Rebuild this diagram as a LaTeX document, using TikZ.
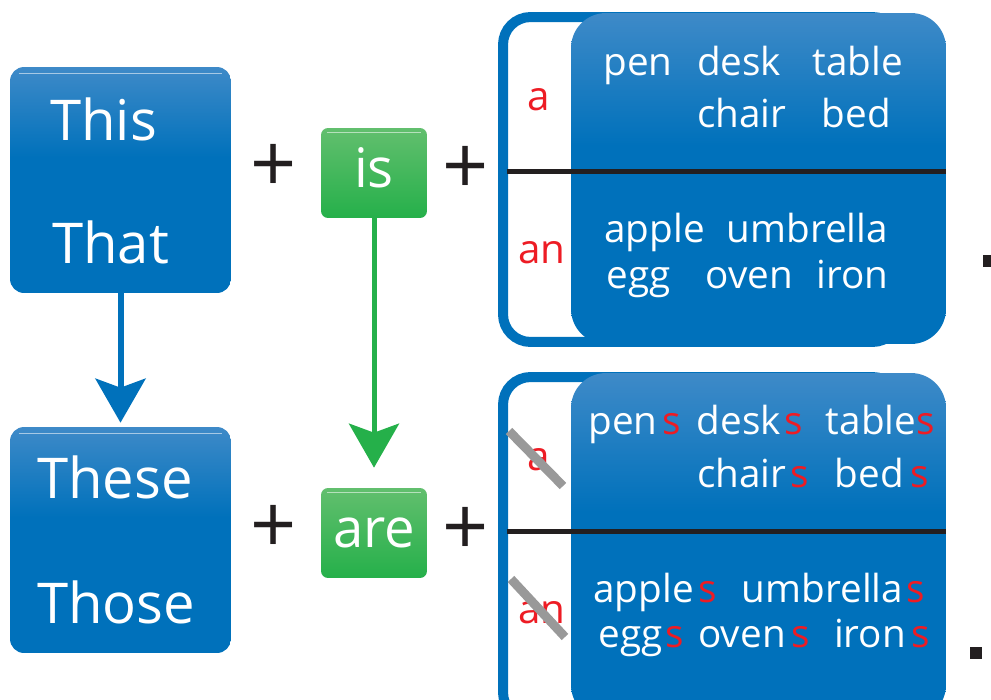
\documentclass[tikz,border=0pt]{standalone}
\usepackage{fontspec}
\setmainfont{Open Sans}
\usetikzlibrary{calc,arrows.meta,positioning}
\tikzstyle{wordbox}=[rounded corners=0.28cm,minimum width=4.42cm,minimum height=4.52cm,inner sep=0pt,shading=bluefade]
\tikzstyle{verbbox}=[rounded corners=0.14cm,minimum width=2.12cm,minimum height=1.8cm,inner sep=0pt,top color=greenlight,bottom color=greendark,text=white,font=\fontsize{31}{36}\selectfont,text height=17pt,text depth=0pt]
\tikzstyle{frame}=[draw=boxdark,line width=0.2cm,rounded corners=0.55cm,minimum width=7.94cm,inner sep=0pt]
\tikzstyle{nounpanel}=[rounded corners=0.7cm,minimum width=7.5cm,inner sep=0pt,shading=bluefade]
\tikzstyle{bigword}=[text=white,font=\fontsize{32}{38}\selectfont,inner sep=0pt,anchor=base west]
\tikzstyle{noun}=[text=white,font=\fontsize{22}{26}\selectfont,inner sep=0pt,anchor=base west]
\tikzstyle{article}=[text=artred,font=\fontsize{23}{28}\selectfont,inner sep=0pt,anchor=base west]
\tikzstyle{plus}=[text=plusblack,font=\fontsize{46}{52}\selectfont,inner sep=0pt]
\tikzstyle{divider}=[draw=plusblack,line width=0.1cm]
\tikzstyle{strike}=[draw=strikegray,line width=0.18cm]
\tikzstyle{shine}=[draw=white,opacity=0.55,line width=0.6pt]
\tikzstyle{fullstop}=[fill=plusblack,minimum size=0.24cm,inner sep=0pt]
\tikzstyle{bluearrow}=[draw=boxdark,line width=0.12cm,-{Stealth[length=0.88cm,width=1cm,inset=0.18cm]},shorten >=0.08cm]
\tikzstyle{greenarrow}=[draw=greendark,line width=0.1cm,-{Stealth[length=0.88cm,width=1cm,inset=0.18cm]},shorten >=0.4cm]
\definecolor{boxlight}{RGB}{62,138,200}
\definecolor{boxdark}{RGB}{0,113,187}
\definecolor{greenlight}{RGB}{98,191,110}
\definecolor{greendark}{RGB}{37,176,74}
\definecolor{artred}{RGB}{237,28,36}
\definecolor{strikegray}{RGB}{153,153,153}
\definecolor{plusblack}{RGB}{35,31,32}
\pgfdeclareverticalshading{bluefade}{100bp}{color(0bp)=(boxdark); color(55bp)=(boxdark); color(75bp)=(boxlight); color(100bp)=(boxlight)}
\newcommand{\redS}{\textcolor{artred}{s}}

\begin{document}
\begin{tikzpicture}[x=0.02cm,y=-0.02cm]
\useasboundingbox (0,0) rectangle (991,700);
\draw (120.5,180) node [wordbox] (thisbox) {};
\draw[shine] ($(thisbox.north west)+(9,7)$) -- ($(thisbox.north east)+(-9,7)$);
\draw (50,140) node [bigword] (this) {This};
\draw (52,263) node [bigword] (that) {That};
\draw (120.5,540) node [wordbox] (thesebox) {};
\draw[shine] ($(thesebox.north west)+(9,7)$) -- ($(thesebox.north east)+(-9,7)$);
\draw (37,498) node [bigword] (these) {These};
\draw (37,623) node [bigword] (those) {Those};
\draw (374,173) node [verbbox] (isbox) {is};
\draw[shine] ($(isbox.north west)+(6,5)$) -- ($(isbox.north east)+(-6,5)$);
\draw (374,533) node [verbbox] (arebox) {are};
\draw[shine] ($(arebox.north west)+(6,5)$) -- ($(arebox.north east)+(-6,5)$);
\draw[bluearrow] (thisbox) -- (thesebox);
\draw[greenarrow] (isbox) -- (arebox);
\draw (274,168) node [plus] (plus1) {+};
\draw (466,170) node [plus] (plus2) {+};
\draw (274,529) node [plus] (plus3) {+};
\draw (466,531) node [plus] (plus4) {+};
\draw (701.5,179.5) node [frame,minimum height=6.5cm] (sgframe) {};
\draw (758.5,178.5) node [nounpanel,minimum height=6.62cm] (sgpanel) {};
\draw[divider] (507,171) -- (946,171);
\draw (527,110) node [article] (sga) {a};
\draw (518,263) node [article] (sgan) {an};
\draw (603,75) node [noun] (sg1) {pen\hspace{14pt}desk\hspace{18pt}table};
\draw (697,127) node [noun] (sg2) {chair\hspace{20pt}bed};
\draw (604,242) node [noun] (sg3) {apple\hspace{12.5pt}umbrella};
\draw (606,288) node [noun] (sg4) {egg\hspace{20pt}oven\hspace{13.5pt}iron};
\draw (989,260.5) node [fullstop] (sgstop) {};
\draw (701.5,548.5) node [frame,minimum height=6.86cm] (plframe) {};
\draw (758.5,546.5) node [nounpanel,minimum height=6.94cm] (plpanel) {};
\draw[divider] (507,531) -- (946,531);
\draw (527,470) node [article] (pla) {a};
\draw (518,623) node [article] (plan) {an};
\draw[strike] (509,431) -- (563,486);
\draw[strike] (511,579) -- (565,637);
\draw (588,434) node [noun] (pl1) {pen\hspace{3pt}\redS\hspace{9pt}desk\hspace{2pt}\redS\hspace{13pt}table\redS};
\draw (697,487) node [noun] (pl2) {chair\hspace{2pt}\redS\hspace{15pt}bed\hspace{4pt}\redS};
\draw (593,602) node [noun] (pl3) {apple\hspace{3pt}\redS\hspace{14pt}umbrella\hspace{2pt}\redS};
\draw (598,647) node [noun] (pl4) {egg\hspace{2pt}\redS\hspace{8pt}oven\hspace{3pt}\redS\hspace{14pt}iron\hspace{3pt}\redS};
\draw (976,653) node [fullstop] (plstop) {};
\end{tikzpicture}
\end{document}
